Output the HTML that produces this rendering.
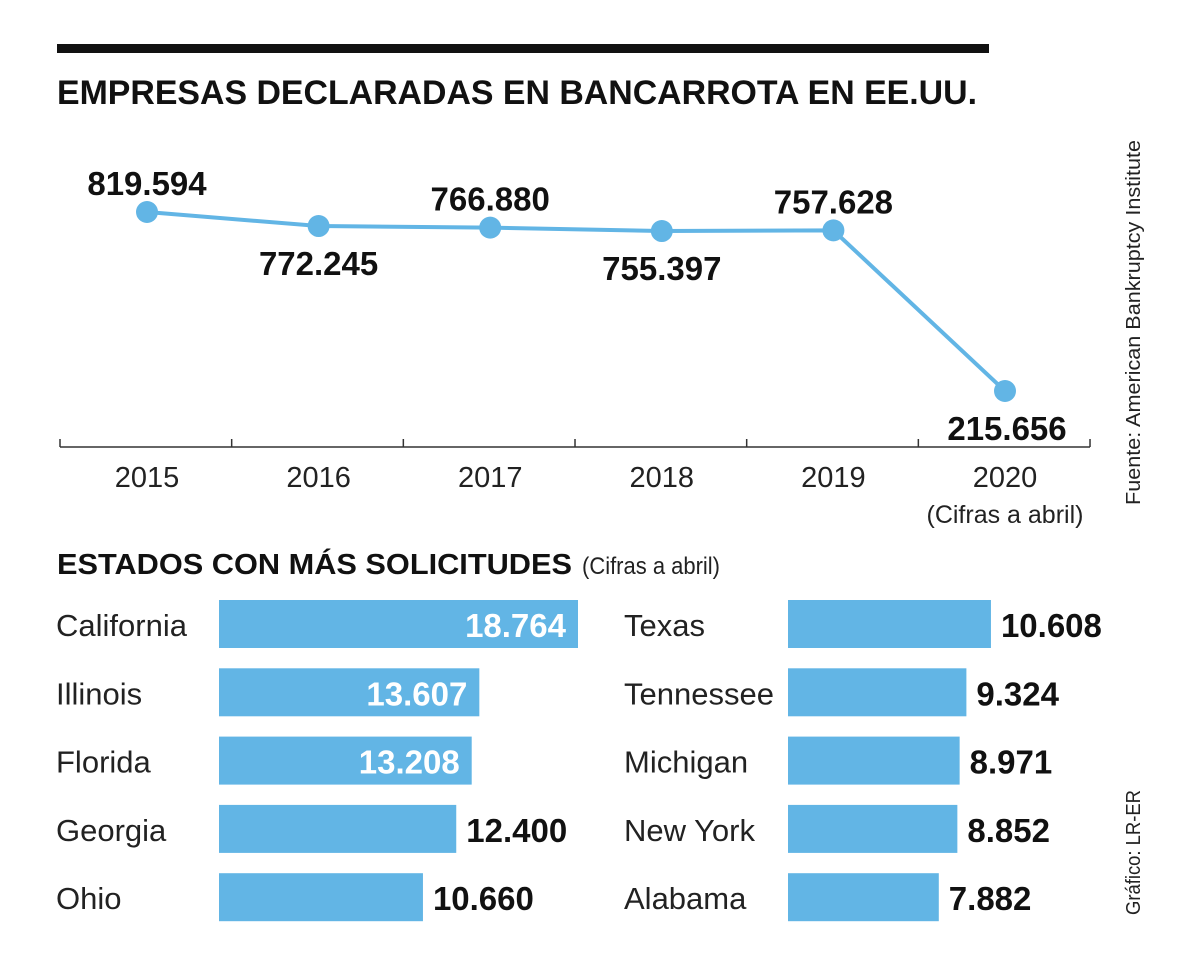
<!DOCTYPE html>
<html><head><meta charset="utf-8"><style>
body{margin:0;background:#fff}
svg{display:block;font-family:"Liberation Sans",sans-serif}
</style></head><body>
<svg id="c" width="1200" height="966" viewBox="0 0 1200 966">
<rect x="57" y="44" width="932" height="9" fill="#111"/>
<text x="57" y="104" font-size="34" font-weight="bold" fill="#111" textLength="920" lengthAdjust="spacingAndGlyphs">EMPRESAS DECLARADAS EN BANCARROTA EN EE.UU.</text>
<text transform="translate(1140,505) rotate(-90)" font-size="20" fill="#222" textLength="365" lengthAdjust="spacingAndGlyphs">Fuente: American Bankruptcy Institute</text>
<text transform="translate(1140,915) rotate(-90)" font-size="20" fill="#222" textLength="125" lengthAdjust="spacingAndGlyphs">Gráfico: LR-ER</text>
<line x1="60" y1="447" x2="1090" y2="447" stroke="#333" stroke-width="1.5"/>
<g id="line"></g>
<text x="57" y="574" font-size="29" font-weight="bold" fill="#111" textLength="515" lengthAdjust="spacingAndGlyphs">ESTADOS CON MÁS SOLICITUDES</text>
<text x="582" y="574" font-size="24" fill="#222" textLength="138" lengthAdjust="spacingAndGlyphs">(Cifras a abril)</text>
<g id="bars"></g>
</svg>
<script>
const years=["2015","2016","2017","2018","2019","2020"];
const totals=[819594,772245,766880,755397,757628,215656];
const totalLabels=["819.594","772.245","766.880","755.397","757.628","215.656"];
const statesL=["California","Illinois","Florida","Georgia","Ohio"];
const valsL=[18764,13607,13208,12400,10660];
const labelsL=["18.764","13.607","13.208","12.400","10.660"];
const statesR=["Texas","Tennessee","Michigan","New York","Alabama"];
const valsR=[10608,9324,8971,8852,7882];
const labelsR=["10.608","9.324","8.971","8.852","7.882"];
const NS="http://www.w3.org/2000/svg";
const BLUE="#62b5e5";
function mk(tag,attrs,parent){const e=document.createElementNS(NS,tag);for(const k in attrs)e.setAttribute(k,attrs[k]);parent.appendChild(e);return e;}
const xs=i=>147+i*171.6;
const ys=v=>212+(819594-v)*(179/603938);
const lg=document.getElementById('line');
for(let i=0;i<=6;i++){const t=mk('line',{x1:60+i*171.67,x2:60+i*171.67,y1:439,y2:447,stroke:'#333','stroke-width':1.5},lg);

}
let d=totals.map((v,i)=>(i?'L':'M')+xs(i)+','+ys(v)).join(' ');
const p=mk('path',{d:d,fill:'none',stroke:BLUE,'stroke-width':4},lg);


totals.forEach((v,i)=>{
 const c=mk('circle',{cx:xs(i),cy:ys(v),r:11,fill:BLUE},lg);
 
 
 const above=(i%2===0)||i===4;
 let ty=above?ys(v)-17:ys(v)+49;
 if(i===5)ty=ys(v)+49;
 const t=mk('text',{x:xs(i)+(i===5?2:0),y:ty,'font-size':33,'font-weight':'bold','text-anchor':'middle',fill:'#111'},lg);
 t.textContent=totalLabels[i];
 
 
 const yl=mk('text',{x:xs(i),y:487,'font-size':29,'text-anchor':'middle',fill:'#222'},lg);
 yl.textContent=years[i];
 
 
});
const note=mk('text',{x:xs(5),y:523,'font-size':25,'text-anchor':'middle',fill:'#222'},lg);
note.textContent="(Cifras a abril)";


const bg=document.getElementById('bars');
const sc=359/18764;
function col(states,vals,labels,lx,bx,inside){
 states.forEach((s,i)=>{
  const y=600+i*68.3;
  const n=mk('text',{x:lx,y:y+36,'font-size':31,fill:'#222'},bg);
  n.textContent=s;
  
  
  const w=vals[i]*sc;
  const r=mk('rect',{x:bx,y:y,width:w,height:48,fill:BLUE},bg);
  
  
  const inn=inside&&i<3;
  const t=mk('text',{x:inn?bx+w-12:bx+w+10,y:y+37,'font-size':33,'font-weight':'bold','text-anchor':inn?'end':'start',fill:inn?'#fff':'#111'},bg);
  t.textContent=labels[i];
  
  
 });
}
col(statesL,valsL,labelsL,56,219,true);
col(statesR,valsR,labelsR,624,788,false);
</script>
</body></html>
